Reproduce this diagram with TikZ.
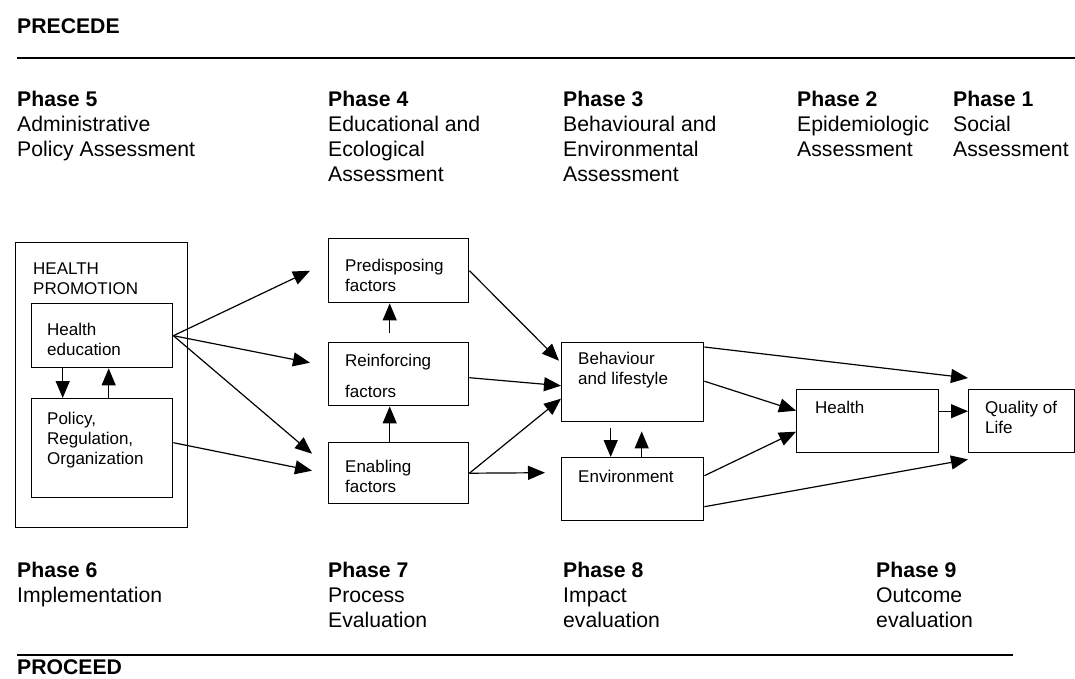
\documentclass[tikz,border=0pt]{standalone}
\usepackage{fontspec}
\setmainfont{Liberation Sans}
\usetikzlibrary{arrows.meta,calc}
\begin{document}
\begin{tikzpicture}[x=1pt,y=-1pt,
  box/.style={draw,line width=1.4pt,rectangle,inner sep=0pt,anchor=north west},
  big/.style={font=\fontsize{21.2}{25}\selectfont,anchor=north west,inner sep=0pt,align=left},
  small/.style={font=\fontsize{17}{20}\selectfont,anchor=north west,inner sep=0pt,align=left},
  arr/.style={line width=1.2pt,-{Triangle[length=17pt,width=14pt]}},
  rulel/.style={line width=1.8pt}]
\useasboundingbox (0,0) rectangle (1075,678);

% headers
\node[big] (precede) at (17,18) {\textbf{PRECEDE}};
\draw[rulel] (17,58) -- (1075,58);
\node[big] (ph5) at (17,91) {\textbf{Phase 5}\\Administrative\\Policy Assessment};
\node[big] (ph4) at (328,91) {\textbf{Phase 4}\\Educational and\\Ecological\\Assessment};
\node[big] (ph3) at (563,91) {\textbf{Phase 3}\\Behavioural and\\Environmental\\Assessment};
\node[big] (ph2) at (797,91) {\textbf{Phase 2}\\Epidemiologic\\Assessment};
\node[big] (ph1) at (953,91) {\textbf{Phase 1}\\Social\\Assessment};

% boxes
\node[box,minimum width=172pt,minimum height=285pt] (hp) at (15,242) {};
\node[small] (hptxt) at ($(hp.north west)+(18,21)$) {HEALTH\\PROMOTION};
\node[box,minimum width=141pt,minimum height=64pt] (he) at (31,303) {};
\node[small] (hetxt) at ($(he.north west)+(16,20)$) {Health\\education};
\node[box,minimum width=141pt,minimum height=99pt] (pol) at (31,398) {};
\node[small] (poltxt) at ($(pol.north west)+(16,14)$) {Policy,\\Regulation,\\Organization};

\node[box,minimum width=140pt,minimum height=64pt] (pre) at (328,238) {};
\node[small] (pretxt) at ($(pre.north west)+(17,21)$) {Predisposing\\factors};
\node[box,minimum width=140pt,minimum height=63pt] (rei) at (328,342) {};
\node[small] (reitxt) at ($(rei.north west)+(17,12)$) {Reinforcing\\[11pt]factors};
\node[box,minimum width=140pt,minimum height=61pt] (ena) at (328,442) {};
\node[small] (enatxt) at ($(ena.north west)+(17,18)$) {Enabling\\factors};

\node[box,minimum width=142pt,minimum height=79pt] (beh) at (561,342) {};
\node[small] (behtxt) at ($(beh.north west)+(17,10)$) {Behaviour\\and lifestyle};
\node[box,minimum width=142pt,minimum height=63pt] (env) at (561,457) {};
\node[small] (envtxt) at ($(env.north west)+(17,13)$) {Environment};

\node[box,minimum width=142pt,minimum height=63pt] (hea) at (796,389) {};
\node[small] (heatxt) at ($(hea.north west)+(19,12)$) {Health};
\node[box,minimum width=106pt,minimum height=63pt] (qol) at (968,389) {};
\node[small] (qoltxt) at ($(qol.north west)+(17,12)$) {Quality of\\Life};

% arrows inside health promotion
\draw[arr] ([xshift=-39.5pt]he.south) -- ([xshift=-39.5pt]pol.north);
\draw[arr] ([xshift=6.5pt]pol.north) -- ([xshift=6.5pt]he.south);

% health promotion to factors
\draw[arr] (he.east) -- ([xshift=-18pt]pre.west);
\draw[arr] (he.east) -- ([xshift=-18pt,yshift=11.5pt]rei.west);
\draw[arr] (he.east) -- ([xshift=-16pt,yshift=19.5pt]ena.west);
\draw[arr] ([yshift=5.5pt]pol.east) -- ([xshift=-16pt,yshift=2.5pt]ena.west);

% factors
\draw[arr] ([xshift=-9pt,yshift=9pt]rei.north) -- ([xshift=-9pt]pre.south);
\draw[arr] ([xshift=-9pt]ena.north) -- ([xshift=-9pt]rei.south);
\draw[arr] (pre.east) -- ([xshift=-2pt,yshift=21.5pt]beh.west);
\draw[arr] ([yshift=-3.5pt]rei.east) -- ([yshift=-3.5pt]beh.west);
\draw[arr] (ena.east) -- ([yshift=-16.5pt]beh.west);
\draw[arr] (ena.east) -- ([xshift=-16pt,yshift=16.5pt]env.west);

% behaviour / environment
\draw[arr] ([xshift=-22pt,yshift=-6pt]beh.south) -- ([xshift=-22pt]env.north);
\draw[arr] ([xshift=9pt]env.north) -- ([xshift=9pt,yshift=-9pt]beh.south);

% to health and quality of life
\draw[arr] ([yshift=-5pt]beh.north east) -- ([yshift=11pt]qol.north west);
\draw[arr] ([yshift=1pt]beh.east) -- ([yshift=10.5pt]hea.west);
\draw[arr] ([yshift=13.5pt]env.east) -- ([yshift=-10.5pt]hea.west);
\draw[arr] ([yshift=-17.5pt]env.east) -- ([yshift=-6pt]qol.south west);
\draw[arr] ([yshift=10pt]hea.east) -- ([yshift=10pt]qol.west);

% bottom
\node[big] (ph6) at (17,562) {\textbf{Phase 6}\\Implementation};
\node[big] (ph7) at (328,562) {\textbf{Phase 7}\\Process\\Evaluation};
\node[big] (ph8) at (563,562) {\textbf{Phase 8}\\Impact\\evaluation};
\node[big] (ph9) at (876,562) {\textbf{Phase 9}\\Outcome\\evaluation};
\draw[rulel] (17,655) -- (1013,655);
\node[big] (proceed) at (17,659) {\textbf{PROCEED}};
\end{tikzpicture}
\end{document}
